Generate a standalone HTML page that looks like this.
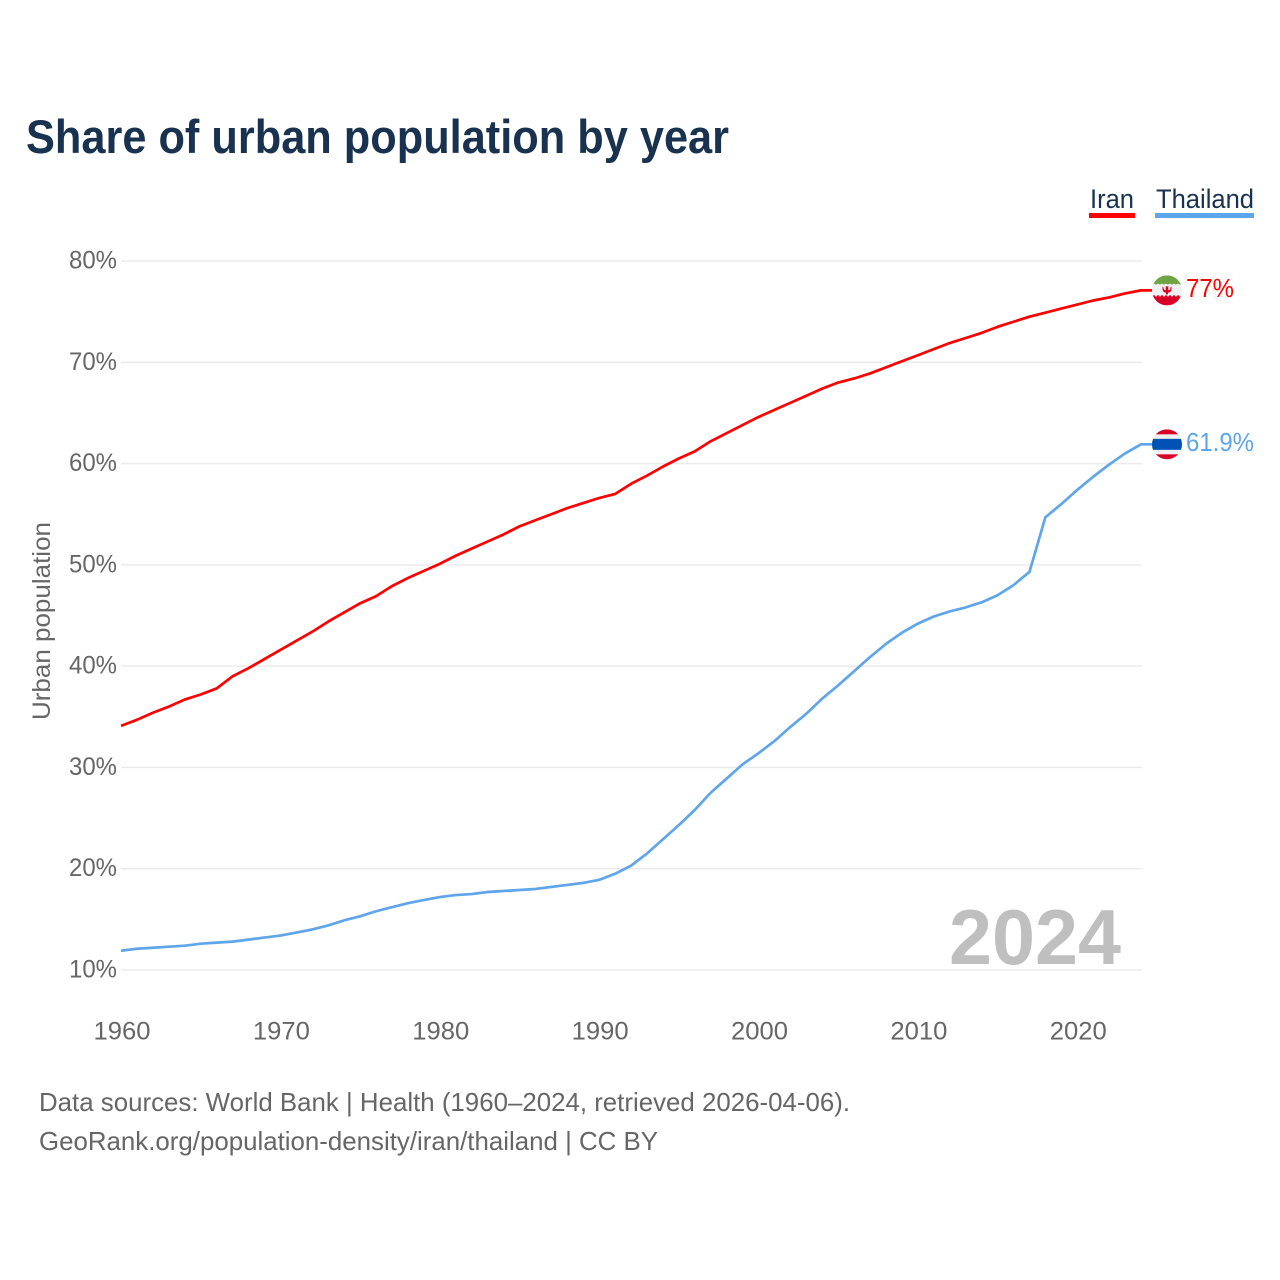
<!DOCTYPE html>
<html>
<head>
<meta charset="utf-8">
<title>Share of urban population by year</title>
<style>
html,body{margin:0;padding:0;background:#fff;}
svg{display:block;font-family:"Liberation Sans",sans-serif;}
</style>
</head>
<body>
<svg id="chart" width="1280" height="1280" viewBox="0 0 1280 1280" xmlns="http://www.w3.org/2000/svg">
<rect width="1280" height="1280" fill="#ffffff"/>
<text x="26" y="153" font-size="47" font-weight="700" fill="#18324f" textLength="703" lengthAdjust="spacingAndGlyphs">Share of urban population by year</text>
<text x="1090" y="208" font-size="27" fill="#18324f" textLength="44" lengthAdjust="spacingAndGlyphs">Iran</text>
<rect x="1089" y="213" width="46" height="5" fill="#ff0000"/>
<text x="1156" y="208" font-size="27" fill="#18324f" textLength="98" lengthAdjust="spacingAndGlyphs">Thailand</text>
<rect x="1155" y="213" width="99" height="5" fill="#5fa5ea"/>
<text transform="translate(50,621) rotate(-90)" text-anchor="middle" font-size="25" fill="#666666" textLength="198" lengthAdjust="spacingAndGlyphs">Urban population</text>
<g id="grid"></g>
<g id="yticks"></g>
<g id="xticks"></g>
<text x="949" y="964" font-size="78" font-weight="700" fill="#bfbfbf" textLength="172" lengthAdjust="spacingAndGlyphs">2024</text>
<g id="series"></g>
<defs>
<clipPath id="clip-iran"><circle id="clip-iran-c" r="15"/></clipPath>
<clipPath id="clip-thai"><circle id="clip-thai-c" r="15"/></clipPath>
</defs>
<g id="flag-iran" clip-path="url(#clip-iran)"></g>
<g id="flag-thai" clip-path="url(#clip-thai)"></g>
<text id="value-iran" x="1186" font-size="26" fill="#ff0000" textLength="48" lengthAdjust="spacingAndGlyphs">77%</text>
<text id="value-thai" x="1186" font-size="26" fill="#5fa5ea" textLength="68" lengthAdjust="spacingAndGlyphs">61.9%</text>
<text x="39" y="1111" font-size="26" fill="#666666" textLength="811" lengthAdjust="spacingAndGlyphs">Data sources: World Bank | Health (1960–2024, retrieved 2026-04-06).</text>
<text x="39" y="1150" font-size="26" fill="#666666" textLength="619" lengthAdjust="spacingAndGlyphs">GeoRank.org/population-density/iran/thailand | CC BY</text>
</svg>
<script>
const firstYear = 1960;
const iranValues = [34.1,34.7,35.4,36.0,36.7,37.2,37.8,39.0,39.8,40.7,41.6,42.5,43.4,44.4,45.3,46.2,46.9,47.9,48.7,49.4,50.1,50.9,51.6,52.3,53.0,53.8,54.4,55.0,55.6,56.1,56.6,57.0,58.0,58.8,59.7,60.5,61.2,62.2,63.0,63.8,64.6,65.3,66.0,66.7,67.4,68.0,68.4,68.9,69.5,70.1,70.7,71.3,71.9,72.4,72.9,73.5,74.0,74.5,74.9,75.3,75.7,76.1,76.4,76.8,77.1];
const thailandValues = [11.9,12.1,12.2,12.3,12.4,12.6,12.7,12.8,13.0,13.2,13.4,13.7,14.0,14.4,14.9,15.3,15.8,16.2,16.6,16.9,17.2,17.4,17.5,17.7,17.8,17.9,18.0,18.2,18.4,18.6,18.9,19.5,20.3,21.5,22.9,24.3,25.8,27.5,28.9,30.3,31.4,32.6,34.0,35.3,36.8,38.1,39.5,40.9,42.2,43.3,44.2,44.9,45.4,45.8,46.3,47.0,48.0,49.3,54.7,56.0,57.4,58.7,59.9,61.0,61.9];
const yTicks = [10,20,30,40,50,60,70,80];
const xTicks = [1960,1970,1980,1990,2000,2010,2020];

const NS = 'http://www.w3.org/2000/svg';
function xScale(year){ return 121 + (year - 1960) * (1141 - 121) / 64; }
function yScale(v){ return 970 - (v - 10) * (970 - 261) / 70; }
function make(tag, attrs, parent){
  const el = document.createElementNS(NS, tag);
  for (const k in attrs) el.setAttribute(k, attrs[k]);
  parent.appendChild(el);
  return el;
}

const grid = document.getElementById('grid');
const yG = document.getElementById('yticks');
yTicks.forEach(function(t){
  const line = make('line', {x1:121, x2:1142, y1:yScale(t), y2:yScale(t), stroke:'#ebebeb', 'stroke-width':1.5}, grid);
  
  
  const lab = make('text', {x:117, y:yScale(t)+7.5, 'text-anchor':'end', 'font-size':25, fill:'#666666', textLength:48, lengthAdjust:'spacingAndGlyphs'}, yG);
  
  
  lab.textContent = t + '%';
});

const xG = document.getElementById('xticks');
xTicks.forEach(function(t){
  const lab = make('text', {x:xScale(t)+1, y:1039.5, 'text-anchor':'middle', 'font-size':25, fill:'#666666', textLength:57, lengthAdjust:'spacingAndGlyphs'}, xG);
  
  
  lab.textContent = t;
});

function pathFor(values){
  let d = values.map(function(v,i){
    return (i ? 'L' : 'M') + xScale(firstYear + i).toFixed(2) + ' ' + yScale(v).toFixed(2);
  }).join(' ');
  const last = values[values.length - 1];
  return d + ' L1152 ' + yScale(last).toFixed(2);
}
const series = document.getElementById('series');
const iranLine = make('path', {d:pathFor(iranValues), fill:'none', stroke:'#ff0000', 'stroke-width':2.7, 'stroke-linejoin':'round'}, series);


const thaiLine = make('path', {d:pathFor(thailandValues), fill:'none', stroke:'#5fa5ea', 'stroke-width':2.7, 'stroke-linejoin':'round'}, series);



const fx = 1167;
const iy = yScale(iranValues[iranValues.length - 1]);
const ty = yScale(thailandValues[thailandValues.length - 1]);
document.getElementById('clip-iran-c').setAttribute('cx', fx);
document.getElementById('clip-iran-c').setAttribute('cy', iy);
document.getElementById('clip-thai-c').setAttribute('cx', fx);
document.getElementById('clip-thai-c').setAttribute('cy', ty);
document.getElementById('value-iran').setAttribute('y', iy + 6.5);
document.getElementById('value-thai').setAttribute('y', ty + 6.5);

const fi = document.getElementById('flag-iran');
make('rect', {x:fx-15, y:iy-15, width:30, height:30, fill:'#f0f0f0'}, fi);
make('rect', {x:fx-15, y:iy-15, width:30, height:9, fill:'#6da544'}, fi);
make('rect', {x:fx-15, y:iy+6, width:30, height:9, fill:'#d80027'}, fi);
for (let i = 0; i < 8; i++) {
  const tx = fx - 14 + i * 4;
  const topTooth = make('rect', {x:tx, y:iy-6.5, width:2, height:2, fill:'#f0f0f0'}, fi);
  
  
  const botTooth = make('rect', {x:tx, y:iy+5, width:2, height:2, fill:'#d80027'}, fi);
  
  
}
make('path', {d:'M'+(fx-4.5)+' '+(iy-4)+' v3 q0 2.5 3.5 3.5 v1.5 h2 v-1.5 q3.5 -1 3.5 -3.5 v-3 l-1.2 1.5 v1.5 l-2 1 v-4 h-2.6 v4 l-2 -1 v-1.5 z', fill:'#d80027'}, fi);

const ft = document.getElementById('flag-thai');
make('rect', {x:fx-15, y:ty-15, width:30, height:30, fill:'#f0f0f0'}, ft);
make('rect', {x:fx-15, y:ty-15, width:30, height:5, fill:'#d80027'}, ft);
make('rect', {x:fx-15, y:ty+10, width:30, height:5, fill:'#d80027'}, ft);
make('rect', {x:fx-15, y:ty-5.5, width:30, height:11, fill:'#0052b4'}, ft);
</script>
</body>
</html>
